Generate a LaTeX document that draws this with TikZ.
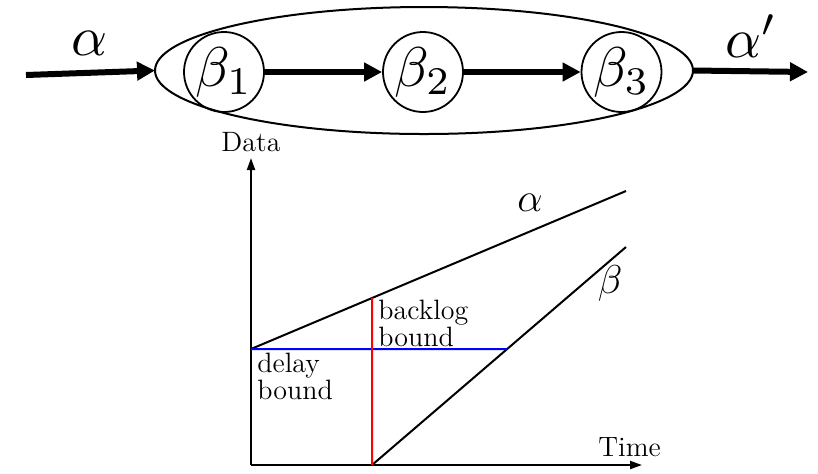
\documentclass[tikz,border=0pt]{standalone}
\usetikzlibrary{arrows.meta,shapes.geometric}
\newcommand{\mybigmath}[1]{\scalebox{2.8}{$#1$}}
\newcommand{\mysmallmath}[1]{\scalebox{1.4}{$#1$}}
\begin{document}
\begin{tikzpicture}[x=0.5pt,y=-0.5pt,
  bigarrow/.style={line width=3pt,-{Triangle[length=9pt,width=9pt]}},
  axis/.style={line width=1pt,-{Triangle[length=6pt,width=4pt]}},
  curve/.style={line width=1pt},
  server/.style={circle,draw,line width=0.9pt,minimum size=40pt,inner sep=0pt},
  biglabel/.style={inner sep=0pt},
  small/.style={font=\fontsize{14}{12.5}\selectfont,inner sep=0pt}]
\useasboundingbox (0,0) rectangle (818,473);
% top chain
\coordinate (Ec) at (424,70.5);
\draw[line width=1pt] (Ec) ellipse [x radius=269, y radius=63.5];
\coordinate (Ew) at (155,70.5);
\coordinate (Ee) at (693,70.5);
\node[server] (s1) at (224,72) {\mybigmath{\beta_1}};
\node[server] (s2) at (423,72) {\mybigmath{\beta_2}};
\node[server] (s3) at (621.5,72) {\mybigmath{\beta_3}};
\coordinate (in) at (26,75);
\coordinate (out) at (808,72);
\draw[bigarrow] (in) -- (Ew);
\draw[bigarrow] (s1) -- (s2);
\draw[bigarrow] (s2) -- (s3);
\draw[bigarrow] (Ee) -- (out);
\node[biglabel,anchor=base] (la) at (90,55) {\mybigmath{\alpha}};
\node[biglabel,anchor=base west] (lap) at (725,57) {\mybigmath{\alpha'}};
% graph
\coordinate (O) at (251,465);
\coordinate (ytip) at (251,158);
\coordinate (xtip) at (642,465);
\draw[axis] (O) -- (ytip);
\draw[axis] (O) -- (xtip);
\node[small,anchor=base] (data) at (251,151) {Data};
\node[small,anchor=base west] (time) at (598,456) {Time};
\coordinate (a0) at (251,349);
\coordinate (a1) at (626,191);
\coordinate (b0) at (372,465);
\coordinate (b1) at (626,247);
\coordinate (vt) at (372,250);
\coordinate (hr) at (640,349);
\draw[curve] (a0) -- (a1);
\draw[curve] (b0) -- (b1);
\coordinate (bk) at (intersection of a0--a1 and b0--vt);
\coordinate (dl) at (intersection of b0--b1 and a0--hr);
\draw[blue,line width=1pt] (a0) -- (dl);
\draw[red,line width=1pt] (b0) -- (bk);
\node[small,anchor=base] (lalpha) at (530,211) {\mysmallmath{\alpha}};
\node[small,anchor=base] (lbeta) at (610,293) {\mysmallmath{\beta}};
\node[small,anchor=north west,align=left] (bl) at (378,299.6) {backlog\\bound};
\node[small,anchor=north west,align=left] (dlb) at (257,352.6) {delay\\bound};
\end{tikzpicture}
\end{document}
